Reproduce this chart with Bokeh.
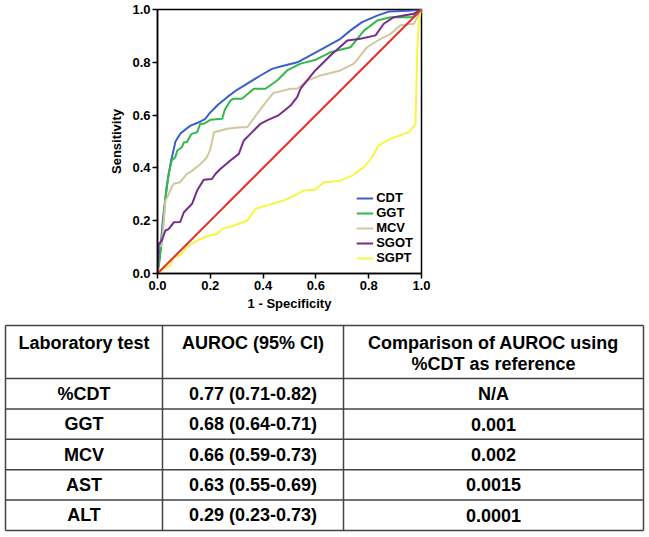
from bokeh.plotting import figure
from bokeh.models import Range1d, FixedTicker, NumeralTickFormatter
from bokeh.core.properties import value
from bokeh.embed import file_html
from bokeh.resources import INLINE

# ---------------- ROC data (1 - specificity, sensitivity) ----------------
cdt_x = [0, 0.005, 0.011, 0.02, 0.035, 0.05, 0.068, 0.087, 0.105, 0.125, 0.15, 0.18, 0.2, 0.23,
         0.264, 0.3, 0.34, 0.39, 0.434, 0.47, 0.53, 0.6, 0.65, 0.693, 0.73, 0.775, 0.832, 0.876, 0.95, 1.0]
cdt_y = [0, 0.04, 0.09, 0.2, 0.33, 0.42, 0.50, 0.53, 0.545, 0.56, 0.57, 0.585, 0.61, 0.64,
         0.668, 0.695, 0.719, 0.75, 0.775, 0.785, 0.80, 0.838, 0.865, 0.889, 0.92, 0.952, 0.977, 0.992, 0.995, 1.0]

ggt_x = [0, 0.008, 0.016, 0.029, 0.042, 0.054, 0.067, 0.075, 0.092, 0.1, 0.111, 0.125, 0.13, 0.15,
         0.162, 0.175, 0.2, 0.245, 0.255, 0.276, 0.288, 0.32, 0.365, 0.409, 0.453, 0.491, 0.542, 0.6,
         0.655, 0.731, 0.782, 0.832, 0.883, 0.965, 1.0]
ggt_y = [0, 0.05, 0.124, 0.276, 0.377, 0.428, 0.44, 0.466, 0.478, 0.497, 0.497, 0.523, 0.529, 0.535,
         0.567, 0.567, 0.582, 0.586, 0.62, 0.655, 0.662, 0.662, 0.7, 0.7, 0.731, 0.769, 0.795, 0.81,
         0.838, 0.857, 0.92, 0.958, 0.971, 0.971, 1.0]

mcv_x = [0, 0.0, 0.016, 0.024, 0.03, 0.037, 0.042, 0.054, 0.062, 0.086, 0.112, 0.124, 0.163, 0.187,
         0.2, 0.214, 0.264, 0.313, 0.34, 0.377, 0.415, 0.44, 0.453, 0.504, 0.529, 0.567, 0.617, 0.693,
         0.744, 0.794, 0.845, 0.883, 0.92, 0.971, 1.0]
mcv_y = [0, 0.1, 0.105, 0.2, 0.276, 0.289, 0.30, 0.327, 0.34, 0.346, 0.378, 0.384, 0.415, 0.44,
         0.47, 0.535, 0.548, 0.554, 0.554, 0.605, 0.655, 0.685, 0.687, 0.70, 0.70, 0.731, 0.75, 0.769,
         0.795, 0.857, 0.889, 0.908, 0.94, 0.946, 1.0]

sgot_x = [0, 0.004, 0.005, 0.016, 0.03, 0.042, 0.062, 0.086, 0.1, 0.131, 0.15, 0.175, 0.206, 0.22,
          0.239, 0.276, 0.308, 0.327, 0.352, 0.39, 0.415, 0.46, 0.504, 0.529, 0.542, 0.592, 0.655,
          0.719, 0.769, 0.826, 0.857, 0.895, 0.971, 1.0]
sgot_y = [0, 0.1, 0.112, 0.124, 0.163, 0.168, 0.194, 0.195, 0.232, 0.264, 0.314, 0.355, 0.358, 0.378,
          0.397, 0.428, 0.453, 0.504, 0.529, 0.567, 0.58, 0.60, 0.636, 0.668, 0.70, 0.763, 0.826,
          0.883, 0.889, 0.902, 0.946, 0.971, 0.984, 1.0]

sgpt_x = [0, 0.023, 0.049, 0.06, 0.087, 0.111, 0.15, 0.194, 0.226, 0.245, 0.289, 0.34, 0.371, 0.415,
          0.452, 0.479, 0.517, 0.554, 0.598, 0.63, 0.687, 0.738, 0.782, 0.813, 0.838, 0.882, 0.952,
          0.977, 0.984, 0.99, 1.0]
sgpt_y = [0, 0.02, 0.03, 0.06, 0.07, 0.1, 0.125, 0.144, 0.15, 0.169, 0.182, 0.2, 0.245, 0.258,
          0.27, 0.277, 0.295, 0.314, 0.317, 0.346, 0.35, 0.371, 0.403, 0.441, 0.485, 0.51, 0.535,
          0.567, 0.845, 0.958, 1.0]

ref_x = [0, 1]
ref_y = [0, 1]

series_names = ["CDT", "GGT", "MCV", "SGOT", "SGPT"]
series_x = [cdt_x, ggt_x, mcv_x, sgot_x, sgpt_x]
series_y = [cdt_y, ggt_y, mcv_y, sgot_y, sgpt_y]
series_colors = ["#3F5FC8", "#33B84A", "#D2C79C", "#7A2A8C", "#F6F640"]

axis_ticks = [0.0, 0.2, 0.4, 0.6, 0.8, 1.0]

# ---------------- table data ----------------
table_header = [["Laboratory test"], ["AUROC (95% CI)"], ["Comparison of AUROC using", "%CDT as reference"]]
table_tests = ["%CDT", "GGT", "MCV", "AST", "ALT"]
table_auroc = ["0.77 (0.71-0.82)", "0.68 (0.64-0.71)", "0.66 (0.59-0.73)", "0.63 (0.55-0.69)", "0.29 (0.23-0.73)"]
table_comp = ["N/A", "0.001", "0.002", "0.0015", "0.0001"]

FONT = "Liberation Sans"
W = 649

# ---------------- ROC figure ----------------
p = figure(width=W, height=318, output_backend="svg", toolbar_location=None,
           x_range=Range1d(0, 1), y_range=Range1d(0, 1),
           min_border_left=157, min_border_right=228, min_border_top=9, min_border_bottom=45)
p.grid.visible = False
p.outline_line_color = "black"
p.outline_line_width = 1.5
p.background_fill_color = "white"

for name, xs, ys, col in zip(series_names, series_x, series_y, series_colors):
    p.line(xs, ys, line_color=col, line_width=2, legend_label=name)
p.line(ref_x, ref_y, line_color="#E8302E", line_width=2)

for ax in (p.xaxis[0], p.yaxis[0]):
    ax.ticker = FixedTicker(ticks=axis_ticks)
    ax.formatter = NumeralTickFormatter(format="0.0")
    ax.minor_tick_line_color = None
    ax.major_tick_in = 0
    ax.major_tick_out = 5
    ax.major_tick_line_width = 1.5
    ax.axis_line_width = 1.5
    ax.major_label_text_font = FONT
    ax.major_label_text_font_style = "bold"
    ax.major_label_text_font_size = "13px"
    ax.major_label_text_color = "black"
    ax.axis_label_text_font = FONT
    ax.axis_label_text_font_style = "bold"
    ax.axis_label_text_font_size = "13px"
    ax.axis_label_text_color = "black"
    ax.major_label_standoff = 2

p.xaxis.axis_label = "1 - Specificity"
p.yaxis.axis_label = "Sensitivity"
p.xaxis.axis_label_standoff = 3
p.yaxis.axis_label_standoff = 5

lg = p.legend[0]
lg.location = "bottom_right"
lg.border_line_alpha = 0
lg.background_fill_alpha = 0
lg.margin = 5
lg.padding = 3
lg.spacing = 0
lg.label_height = 14
lg.glyph_height = 14
lg.glyph_width = 17
lg.label_standoff = 3
lg.label_text_font = FONT
lg.label_text_font_style = "bold"
lg.label_text_font_size = "13px"
lg.label_text_color = "black"

# ---------------- table figure ----------------
TH = 219
t = figure(width=W, height=TH, output_backend="svg", toolbar_location=None,
           x_range=Range1d(0, W), y_range=Range1d(TH, 0),
           min_border=0)
t.axis.visible = False
t.grid.visible = False
t.outline_line_color = None

col_edges = [5, 162, 343, 643]
table_top = 7
header_h = 53
row_h = 30.4
row_edges = [table_top, table_top + header_h] + [table_top + header_h + row_h * (i + 1) for i in range(len(table_tests))]
line_color = "#444444"

t.segment(x0=[col_edges[0]] * len(row_edges), x1=[col_edges[-1]] * len(row_edges),
          y0=row_edges, y1=row_edges, line_color=line_color, line_width=1.5)
t.segment(x0=col_edges, x1=col_edges, y0=[row_edges[0]] * len(col_edges),
          y1=[row_edges[-1]] * len(col_edges), line_color=line_color, line_width=1.5)

col_centers = [(col_edges[i] + col_edges[i + 1]) / 2 for i in range(3)]

hx, hy, htxt = [], [], []
for ci, lines in enumerate(table_header):
    for li, txt in enumerate(lines):
        hx.append(col_centers[ci])
        hy.append(table_top + 17 + li * 21)
        htxt.append(txt)

bx, by, btxt = [], [], []
for ri, row in enumerate(zip(table_tests, table_auroc, table_comp)):
    yc = (row_edges[ri + 1] + row_edges[ri + 2]) / 2
    for ci, txt in enumerate(row):
        bx.append(col_centers[ci])
        by.append(yc)
        btxt.append(txt)

for xs, ys, txts in ((hx, hy, htxt), (bx, by, btxt)):
    t.text(x=xs, y=ys, text=txts, text_align="center", text_baseline="middle",
           text_font=value(FONT), text_font_style="bold", text_font_size="18px", text_color="black")

open("out.html", "w").write(file_html([p, t], INLINE))
